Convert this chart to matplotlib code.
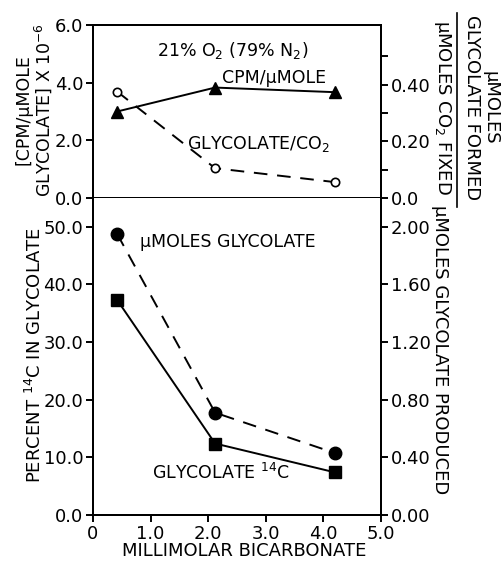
import matplotlib
matplotlib.use("Agg")
import matplotlib.pyplot as plt
from matplotlib.lines import Line2D

# --- data ---
bicarb = [0.42, 2.12, 4.2]

# top panel
cpm_per_umole = [3.0, 3.83, 3.67]          # left axis, x 10^-6
glycolate_per_co2 = [0.375, 0.105, 0.056]  # right axis

# bottom panel
pct_14c = [37.3, 12.4, 7.4]                # left axis
umoles_glycolate = [1.95, 0.71, 0.43]      # right axis

x_ticks = [0, 1, 2, 3, 4, 5]
x_ticklabels = ["0", "1.0", "2.0", "3.0", "4.0", "5.0"]

W, H = 504, 565
fig = plt.figure(figsize=(W / 100, H / 100), dpi=100)
plt.rcParams['font.family'] = ['DejaVu Sans']

def fx(px):
    return px / W

def fy(py):
    return 1 - py / H

left, right = 93, 381
top1, mid, bot = 25, 198, 515
fs = 13
fa = 12.5
lw = 1.4

def style(ax):
    for s in ax.spines.values():
        s.set_linewidth(lw)
    ax.tick_params(direction="out", length=5, width=lw, labelsize=fs, pad=2)
    ax.tick_params(which="minor", direction="out", length=5, width=lw)

# ---------- top panel ----------
ax1 = fig.add_axes([fx(left), fy(mid), fx(right - left), (mid - top1) / H])
ax1.set_xlim(0, 5)
ax1.set_ylim(0, 6.0)
ax1.set_xticks([])
ax1.set_yticks([0, 2, 4, 6])
ax1.set_yticklabels(["0.0", "2.0", "4.0", "6.0"])
style(ax1)
ax1.plot(bicarb, cpm_per_umole, color="black", lw=lw, marker="^", ms=9,
         markerfacecolor="black", clip_on=False, zorder=3)

ax1r = ax1.twinx()
ax1r.set_ylim(0, 0.61)
ax1r.set_yticks([0, 0.2, 0.4])
ax1r.set_yticklabels(["0.0", "0.20", "0.40"])
ax1r.set_yticks([0.1, 0.3, 0.5], minor=True)
style(ax1r)
ax1r.plot(bicarb, glycolate_per_co2, color="black", lw=lw, ls=(0, (7, 5)),
          marker="o", ms=6, markerfacecolor="white", markeredgewidth=1.2, zorder=3)

ax1.text(2.43, 5.1, "21% O$_2$ (79% N$_2$)", fontsize=fa, ha="center", va="center")
ax1.text(3.14, 4.15, "CPM/\u03bcMOLE", fontsize=fa, ha="center", va="center")
ax1.text(2.88, 1.87, "GLYCOLATE/CO$_2$", fontsize=fa, ha="center", va="center")

# left label of top panel (two lines)
fig.text(fx(34), fy(110), "[CPM/\u03bcMOLE\nGLYCOLATE] X 10$^{-6}$", rotation=90,
         fontsize=12.5, ha="center", va="center", multialignment="center",
         linespacing=1.0)

# right label of top panel (fraction)
fig.text(fx(481), fy(108), "\u03bcMOLES\nGLYCOLATE FORMED", rotation=270, fontsize=fs,
         ha="center", va="center", multialignment="center", linespacing=1.05)
fig.text(fx(443), fy(107), "\u03bcMOLES CO$_2$ FIXED", rotation=270, fontsize=fs,
         ha="center", va="center")
fig.add_artist(Line2D([fx(457), fx(457)], [fy(13), fy(207)], color="black", lw=1.2))

# ---------- bottom panel ----------
ax2 = fig.add_axes([fx(left), fy(bot), fx(right - left), (bot - mid) / H])
ax2.set_xlim(0, 5)
ax2.set_ylim(0, 55)
ax2.set_xticks(x_ticks)
ax2.set_xticklabels(x_ticklabels)
ax2.set_yticks([0, 10, 20, 30, 40, 50])
ax2.set_yticklabels(["0.0", "10.0", "20.0", "30.0", "40.0", "50.0"])
style(ax2)
ax2.spines["top"].set_visible(False)
ax2.plot(bicarb, pct_14c, color="black", lw=lw, marker="s", ms=8, zorder=3)

ax2r = ax2.twinx()
ax2r.set_ylim(0, 2.2)
ax2r.set_yticks([0, 0.4, 0.8, 1.2, 1.6, 2.0])
ax2r.set_yticklabels(["0.00", "0.40", "0.80", "1.20", "1.60", "2.00"])
style(ax2r)
ax2r.spines["top"].set_visible(False)
ax2r.plot(bicarb, umoles_glycolate, color="black", lw=lw, ls=(0, (7, 5)),
          marker="o", ms=9, zorder=3)

fig.text(fx(35), fy(355), "PERCENT $^{14}$C IN GLYCOLATE", rotation=90, fontsize=fs,
         ha="center", va="center")
fig.text(fx(440), fy(350), "\u03bcMOLES GLYCOLATE PRODUCED", rotation=270, fontsize=fs,
         ha="center", va="center")
fig.text(fx(244), fy(551), "MILLIMOLAR BICARBONATE", fontsize=fs,
         ha="center", va="center")

ax2.text(0.82, 47.3, "\u03bcMOLES GLYCOLATE", fontsize=fa, ha="left", va="center")
ax2.text(1.02, 7.3, "GLYCOLATE $^{14}$C", fontsize=fa, ha="left", va="center")

fig.savefig("out.png", dpi=100)
